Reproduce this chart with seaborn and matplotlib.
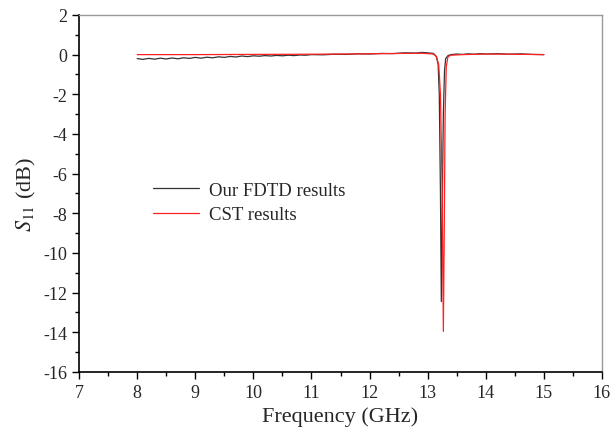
import matplotlib
matplotlib.use("Agg")
import matplotlib.pyplot as plt
import seaborn as sns
import pandas as pd
from matplotlib.ticker import MultipleLocator

fdtd_freq = [8.0, 8.1, 8.2, 8.3, 8.4, 8.5, 8.6, 8.7, 8.8, 8.9, 9.0, 9.1, 9.2, 9.3, 9.4,
             9.5, 9.6, 9.7, 9.8, 9.9, 10.0, 10.1, 10.2, 10.3, 10.4, 10.5, 10.6, 10.7,
             10.8, 10.9, 11.0, 11.2, 11.4, 11.6, 11.8, 12.0, 12.2, 12.4, 12.6, 12.8,
             12.9, 13.0, 13.1, 13.15, 13.18, 13.2, 13.22, 13.235, 13.25, 13.27, 13.29,
             13.31, 13.35, 13.4, 13.5, 13.6, 13.7, 13.8, 13.9, 14.0, 14.2, 14.4, 14.6,
             14.8, 15.0]
fdtd_s11 = [-0.20, -0.24, -0.19, -0.23, -0.18, -0.22, -0.17, -0.21, -0.16, -0.19, -0.14,
            -0.18, -0.13, -0.16, -0.11, -0.14, -0.09, -0.12, -0.07, -0.10, -0.06, -0.08,
            -0.05, -0.07, -0.04, -0.06, -0.03, -0.05, -0.02, -0.03, 0.00, -0.01, 0.02,
            0.01, 0.04, 0.03, 0.06, 0.05, 0.09, 0.08, 0.11, 0.09, 0.06, -0.10, -0.50,
            -2.0, -7.0, -12.45, -8.0, -3.0, -0.8, -0.2, -0.05, 0.0, 0.03, 0.01, 0.04,
            0.02, 0.05, 0.03, 0.05, 0.02, 0.04, 0.01, 0.0]

cst_freq = [8.0, 9.0, 10.0, 11.0, 12.0, 12.5, 12.9, 13.1, 13.15, 13.19, 13.22, 13.25,
            13.27, 13.285, 13.30, 13.32, 13.35, 13.4, 13.6, 14.0, 14.5, 15.0]
cst_s11 = [0.0, 0.0, 0.01, 0.02, 0.04, 0.06, 0.07, 0.03, -0.10, -0.5, -2.0, -7.0,
           -13.95, -9.0, -3.0, -0.6, -0.1, -0.03, 0.0, 0.03, 0.02, 0.0]

labels = ["Our FDTD results", "CST results"]

sns.set_style("ticks")
plt.rcParams["font.family"] = ["Liberation Serif", "DejaVu Serif"]
plt.rcParams["mathtext.fontset"] = "stix"
plt.rcParams["axes.unicode_minus"] = False

fig = plt.figure(figsize=(6.13, 4.31), dpi=100)
ax = fig.add_axes([0.129, 0.1346, 0.853, 0.8284])

df1 = pd.DataFrame({"f": fdtd_freq, "s": fdtd_s11})
df2 = pd.DataFrame({"f": cst_freq, "s": cst_s11})
sns.lineplot(data=df1, x="f", y="s", ax=ax, color="#333333", lw=0.9, label=labels[0])
sns.lineplot(data=df2, x="f", y="s", ax=ax, color="#ff2020", lw=0.9, label=labels[1])

ax.set_xlim(7, 16)
ax.set_ylim(-16, 2)
ax.xaxis.set_major_locator(MultipleLocator(1))
ax.xaxis.set_minor_locator(MultipleLocator(0.5))
ax.yaxis.set_major_locator(MultipleLocator(2))
ax.yaxis.set_minor_locator(MultipleLocator(1))
ax.tick_params(which="major", direction="out", length=5, width=1, labelsize=13, color="black")
ax.tick_params(which="minor", direction="out", length=3, width=1, color="black")
ax.set_xlabel("Frequency (GHz)", fontsize=16)
ax.set_ylabel(r"$S_{11}$ (dB)", fontsize=16)

for s in ["left", "bottom"]:
    ax.spines[s].set_color("black")
    ax.spines[s].set_linewidth(1.2)
for s in ["top", "right"]:
    ax.spines[s].set_color("#999999")
    ax.spines[s].set_linewidth(1.0)

ax.legend(loc="upper left", bbox_to_anchor=(0.109, 0.581), frameon=False, fontsize=13.5,
          handlelength=2.45, handletextpad=0.55, labelspacing=0.4)

fig.savefig("out.png", dpi=100)
